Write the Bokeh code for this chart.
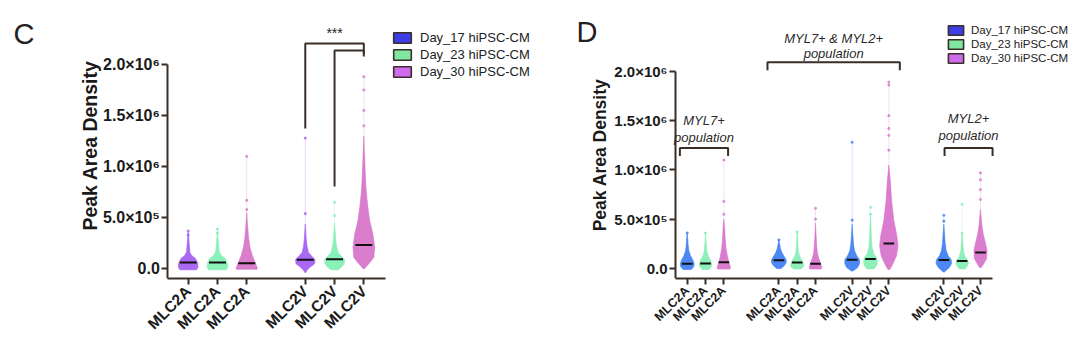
import math
from bokeh.plotting import figure
from bokeh.models import (ColumnDataSource, FixedTicker, CustomJSTickFormatter,
                          Legend, LegendItem, Label, Range1d)
from bokeh.layouts import row
from bokeh.embed import file_html
from bokeh.resources import INLINE

# ------------------------------------------------------------------ data
UNIT = 1e5  # all values below are in units of 1e5

DAY_LABELS = ["Day_17 hiPSC-CM", "Day_23 hiPSC-CM", "Day_30 hiPSC-CM"]
Y_TICKS = [0, 500000, 1000000, 1500000, 2000000]
Y_TICK_LABELS = ["0.0", "5.0\u00d710\u2075", "1.0\u00d710\u2076", "1.5\u00d710\u2076", "2.0\u00d710\u2076"]
Y_LABEL = "Peak Area Density"

# ---- panel C
C_GROUPS = [["MLC2A", "MLC2A", "MLC2A"], ["MLC2V", "MLC2V", "MLC2V"]]
C_DAY = [0, 1, 2, 0, 1, 2]
C_MEDIAN = [0.62, 0.62, 0.55, 0.88, 0.93, 2.33]
C_LEVELS = [
    [-0.1, 0.1, 0.5, 1.0, 1.3, 1.6, 2.2, 3.0, 3.6],
    [-0.1, 0.1, 0.5, 1.0, 1.3, 1.7, 2.3, 3.0, 3.8],
    [-0.05, 0.1, 0.65, 1.3, 2.1, 3.1, 4.2, 5.5],
    [-0.35, -0.15, 0.2, 0.5, 0.9, 1.2, 1.6, 2.2, 3.0, 4.4],
    [-0.1, 0.2, 0.5, 0.9, 1.2, 1.6, 2.3, 3.2, 4.5],
    [0.0, 0.5, 1.1, 2.1, 3.4, 4.7, 6.0, 7.3, 8.6, 10.0, 11.5, 13.0],
]
C_HALFW = [
    [0.28, 0.33, 0.33, 0.25, 0.12, 0.06, 0.04, 0.02, 0.0],
    [0.30, 0.35, 0.35, 0.27, 0.13, 0.06, 0.04, 0.02, 0.0],
    [0.35, 0.36, 0.28, 0.19, 0.11, 0.06, 0.03, 0.0],
    [0.02, 0.06, 0.18, 0.32, 0.33, 0.23, 0.11, 0.06, 0.03, 0.0],
    [0.12, 0.25, 0.33, 0.34, 0.24, 0.12, 0.06, 0.03, 0.0],
    [0.02, 0.17, 0.34, 0.37, 0.31, 0.20, 0.14, 0.09, 0.06, 0.04, 0.02, 0.0],
]
C_OUTLIERS = [
    [3.3, 3.7],
    [3.5, 3.9],
    [5.8, 6.7, 11.0],
    [5.4, 12.8],
    [5.2, 6.5],
    [14.0, 15.5, 17.5, 18.8],
]
C_SIG_TEXT = "***"

# ---- panel D
D_GROUPS = [["MLC2A", "MLC2A", "MLC2A"], ["MLC2A", "MLC2A", "MLC2A"],
            ["MLC2V", "MLC2V", "MLC2V"], ["MLC2V", "MLC2V", "MLC2V"]]
D_DAY = [0, 1, 2] * 4
D_MEDIAN = [0.48, 0.50, 0.63, 0.83, 0.60, 0.48, 0.90, 0.96, 2.53, 0.87, 0.77, 1.63]
D_LEVELS = [
    [-0.1, 0.2, 0.5, 0.9, 1.3, 1.8, 2.4, 3.0, 3.6],
    [-0.1, 0.2, 0.5, 0.9, 1.3, 1.8, 2.4, 3.0, 3.6],
    [-0.05, 0.1, 0.6, 1.2, 2.0, 3.0, 4.2, 5.0],
    [0.0, 0.3, 0.6, 0.9, 1.2, 1.6, 2.0, 2.5, 2.9],
    [-0.05, 0.2, 0.5, 0.9, 1.3, 1.8, 2.5, 3.2, 3.8],
    [-0.05, 0.1, 0.5, 1.0, 1.6, 2.4, 3.4, 4.6],
    [-0.25, 0.1, 0.5, 0.9, 1.3, 1.8, 2.5, 3.3, 4.5],
    [-0.05, 0.3, 0.7, 1.1, 1.5, 2.1, 3.0, 4.2, 5.5],
    [-0.1, 0.4, 1.3, 2.3, 3.3, 4.9, 6.9, 8.9, 10.5],
    [-0.35, 0.1, 0.5, 0.9, 1.3, 1.8, 2.6, 3.5, 4.5],
    [-0.05, 0.3, 0.6, 0.9, 1.2, 1.7, 2.3, 3.0, 3.6],
    [0.1, 0.4, 1.0, 1.8, 2.6, 3.5, 4.5, 6.0],
]
D_HALFW = [
    [0.22, 0.36, 0.38, 0.30, 0.18, 0.09, 0.05, 0.03, 0.0],
    [0.18, 0.32, 0.34, 0.26, 0.14, 0.07, 0.04, 0.02, 0.0],
    [0.34, 0.36, 0.28, 0.20, 0.12, 0.07, 0.04, 0.0],
    [0.12, 0.30, 0.40, 0.40, 0.30, 0.17, 0.09, 0.04, 0.0],
    [0.20, 0.35, 0.35, 0.24, 0.12, 0.06, 0.04, 0.02, 0.0],
    [0.30, 0.34, 0.28, 0.18, 0.10, 0.06, 0.03, 0.0],
    [0.04, 0.30, 0.40, 0.40, 0.25, 0.13, 0.07, 0.04, 0.0],
    [0.18, 0.34, 0.38, 0.34, 0.18, 0.09, 0.05, 0.03, 0.0],
    [0.05, 0.20, 0.42, 0.50, 0.44, 0.27, 0.15, 0.08, 0.0],
    [0.03, 0.30, 0.42, 0.40, 0.24, 0.13, 0.07, 0.04, 0.0],
    [0.15, 0.30, 0.34, 0.28, 0.16, 0.08, 0.05, 0.03, 0.0],
    [0.05, 0.15, 0.33, 0.36, 0.27, 0.15, 0.07, 0.0],
]
D_OUTLIERS = [
    [3.6], [3.6], [5.5, 6.8, 11.0], [2.9], [3.7], [5.0, 6.1],
    [4.9, 12.8], [5.5, 6.2], [12.0, 13.5, 14.2, 15.5, 18.6, 18.9],
    [4.8, 5.4], [3.6, 6.5], [7.0, 8.0, 9.0, 9.7],
]
D_POPULATIONS = [["MYL7+", "population"], ["MYL7+ & MYL2+", "population"], ["MYL2+", "population"]]

# ------------------------------------------------------------------ styles
AX = "#3a2e28"
TXT = "#1a1a1a"
C_COLORS = ["#a35cf2", "#80f0b2", "#d672c8"]
D_COLORS = ["#3d7ef2", "#84eeb4", "#d872ca"]
LEG_COLORS = ["#3e3de6", "#7fe79f", "#cf6cee"]
FONT = "Liberation Sans"
NAN = float("nan")


def positions(groups, gaps):
    pos, cur = [], 0
    for gi, g in enumerate(groups):
        if gi > 0:
            cur += gaps[gi - 1]
        for _ in g:
            pos.append(cur)
            cur += 1
    return pos


def make_panel(groups, gaps, days, medians, levels, halfw, outliers, colors,
               axis_px, frame_bottom, ppu, ppv, zero_px, first_px, axis_end,
               xfs, yfs, lfs, label_xy):
    W, H = 540, 346
    fh = H - frame_bottom
    x0 = -first_px / ppu
    x1 = x0 + W / ppu
    y0 = -(fh - zero_px) / ppv * 1e6
    y1 = y0 + fh / ppv * 1e6
    p = figure(width=W, height=H, x_range=Range1d(x0, x1), y_range=Range1d(y0, y1),
               output_backend="svg", toolbar_location=None,
               min_border_left=0, min_border_right=0,
               min_border_top=0, min_border_bottom=frame_bottom)
    p.grid.visible = False
    p.outline_line_color = None
    p.background_fill_color = "white"
    p.border_fill_color = "white"

    def px_x(px):
        return x0 + px / ppu

    def px_y(py):
        return y0 + (fh - py) / ppv * 1e6

    pos = positions(groups, gaps)
    labels = [lab for g in groups for lab in g]

    # violin-like swarm silhouettes
    xs, ys, fc = [], [], []
    for i, (lv, hw) in enumerate(zip(levels, halfw)):
        xs.append([pos[i] - w for w in hw] + [pos[i] + w for w in reversed(hw)])
        ys.append([v * UNIT for v in lv] + [v * UNIT for v in reversed(lv)])
        fc.append(colors[days[i]])
    p.patches(xs="xs", ys="ys", source=ColumnDataSource(dict(xs=xs, ys=ys, c=fc)),
              fill_color="c", fill_alpha=0.92, line_color="c", line_alpha=0.6, line_width=1)

    # sparse upper points
    wx0, wy0, wy1, wc, ox, oy, oc = [], [], [], [], [], [], []
    for i, outs in enumerate(outliers):
        if outs:
            wx0.append(pos[i]); wy0.append(levels[i][-1] * UNIT)
            wy1.append(max(outs) * UNIT); wc.append(colors[days[i]])
        for o in outs:
            ox.append(pos[i]); oy.append(o * UNIT); oc.append(colors[days[i]])
    p.segment(x0="x", y0="y0", x1="x", y1="y1", line_color="c", line_alpha=0.22, line_width=1,
              source=ColumnDataSource(dict(x=wx0, y0=wy0, y1=wy1, c=wc)))
    p.scatter(x="x", y="y", color="c", size=2.2, alpha=0.7,
              source=ColumnDataSource(dict(x=ox, y=oy, c=oc)))

    # medians
    mw = 0.29
    p.segment(x0=[q - mw for q in pos], x1=[q + mw for q in pos],
              y0=[m * UNIT for m in medians], y1=[m * UNIT for m in medians],
              line_color="#111111", line_width=2)

    # axes
    ax_x = px_x(axis_px)
    ya = p.yaxis[0]
    ya.fixed_location = ax_x
    ya.ticker = FixedTicker(ticks=Y_TICKS)
    ya.formatter = CustomJSTickFormatter(args=dict(vals=Y_TICKS, labels=Y_TICK_LABELS),
                                         code="const i = vals.indexOf(tick); return i < 0 ? '' : labels[i];")
    ya.bounds = (y0, Y_TICKS[-1])
    ya.major_label_standoff = 2

    xa = p.xaxis[0]
    xa.ticker = FixedTicker(ticks=pos)
    xa.formatter = CustomJSTickFormatter(args=dict(vals=pos, labels=labels),
                                         code="const i = vals.indexOf(tick); return i < 0 ? '' : labels[i];")
    xa.bounds = (ax_x, axis_end)
    xa.major_label_orientation = math.pi / 4
    xa.major_label_standoff = 4

    for a, size in ((ya, yfs), (xa, xfs)):
        a.axis_line_color = AX
        a.axis_line_width = 2
        a.major_tick_line_color = AX
        a.major_tick_line_width = 2
        a.major_tick_out = 6
        a.major_tick_in = 0
        a.minor_tick_line_color = None
        a.major_label_text_font = FONT
        a.major_label_text_font_style = "bold"
        a.major_label_text_font_size = size
        a.major_label_text_color = TXT

    # y-axis title (placed as a rotated label so it sits where the original has it)
    p.add_layout(Label(x=px_x(label_xy[0]), y=px_y(label_xy[1]), text=Y_LABEL, angle=math.pi / 2,
                       text_align="center", text_baseline="middle", text_font=FONT,
                       text_font_style="bold", text_font_size=lfs, text_color=TXT))

    return p, pos, px_x, px_y


def add_legend(p, colors, x, y, gw, gh, fsize, spacing, standoff):
    items = []
    for i, lab in enumerate(DAY_LABELS):
        r = p.quad(left="l", right="r", bottom="b", top="t",
                   source=ColumnDataSource(dict(l=[NAN], r=[NAN], b=[NAN], t=[NAN])),
                   fill_color=colors[i], line_color=AX, line_width=1.6)
        items.append(LegendItem(label=lab, renderers=[r]))
    lg = Legend(items=items, location=(x, y), orientation="vertical",
                glyph_width=gw, glyph_height=gh, label_height=gh, spacing=spacing,
                label_standoff=standoff, padding=0, margin=0,
                border_line_color=None, background_fill_alpha=0,
                label_text_font=FONT, label_text_font_size=fsize, label_text_color="#222222")
    p.add_layout(lg)


# ------------------------------------------------------------------ panel C
pc, cpos, cx, cy = make_panel(C_GROUPS, [1], C_DAY, C_MEDIAN, C_LEVELS, C_HALFW, C_OUTLIERS,
                              C_COLORS, axis_px=167.3, frame_bottom=68, ppu=29.27, ppv=102.15,
                              zero_px=268.3, first_px=187.7, axis_end=6.74,
                              xfs="15.5px", yfs="16px", lfs="19.5px", label_xy=(89, 145))
a, b, c = cpos[3], cpos[4], cpos[5]
pc.multi_line(xs=[[a, a, c, c], [b, b, c, c]],
              ys=[[cy(128), cy(43), cy(43), cy(53)], [cy(186), cy(50), cy(50), cy(56)]],
              line_color=AX, line_width=2)
pc.add_layout(Label(x=(a + c) / 2, y=cy(40), text=C_SIG_TEXT, text_align="center",
                    text_baseline="bottom", text_font=FONT, text_font_size="14px",
                    text_color="#222222"))
pc.add_layout(Label(x=cx(13), y=cy(17), text="C", text_align="left", text_baseline="top",
                    text_font=FONT, text_font_size="29px", text_color="#222222"))
add_legend(pc, LEG_COLORS, x=391, y=199, gw=22, gh=13, fsize="13px",
           spacing=2, standoff=7)

# ------------------------------------------------------------------ panel D
pd, dpos, dx, dy = make_panel(D_GROUPS, [2, 1, 2], D_DAY, D_MEDIAN, D_LEVELS, D_HALFW, D_OUTLIERS,
                              D_COLORS, axis_px=135, frame_bottom=67, ppu=18.33, ppv=99.0,
                              zero_px=269.0, first_px=146.7, axis_end=16.66,
                              xfs="12.5px", yfs="15px", lfs="17.5px", label_xy=(59, 155))
br_spans = [(dpos[0] - 0.4, dpos[2] + 0.23), (dpos[3] - 0.62, dpos[8] + 0.6), (dpos[9] + 0.04, dpos[11] + 0.66)]
br_top = [148, 62, 148]
br_leg = [8, 8, 8]
txt_y = [(120, 137), (38, 53), (118, 135)]
mxs, mys = [], []
for (l, r), t, lg in zip(br_spans, br_top, br_leg):
    mxs.append([l, l, r, r])
    mys.append([dy(t + lg), dy(t), dy(t), dy(t + lg)])
pd.multi_line(xs=mxs, ys=mys, line_color=AX, line_width=2)
for (l, r), (t1, t2), lines in zip(br_spans, txt_y, D_POPULATIONS):
    for ty, line in zip((t1, t2), lines):
        pd.add_layout(Label(x=(l + r) / 2, y=dy(ty), text=line, text_align="center",
                            text_baseline="middle", text_font=FONT, text_font_style="italic",
                            text_font_size="13px", text_color="#2a2a2a"))
pd.add_layout(Label(x=dx(36), y=dy(16), text="D", text_align="left", text_baseline="top",
                    text_font=FONT, text_font_size="29px", text_color="#222222"))
add_legend(pd, LEG_COLORS, x=406, y=214, gw=19, gh=12, fsize="11.5px", spacing=2, standoff=6)

layout = row(pc, pd)
open("out.html", "w").write(file_html(layout, INLINE))
